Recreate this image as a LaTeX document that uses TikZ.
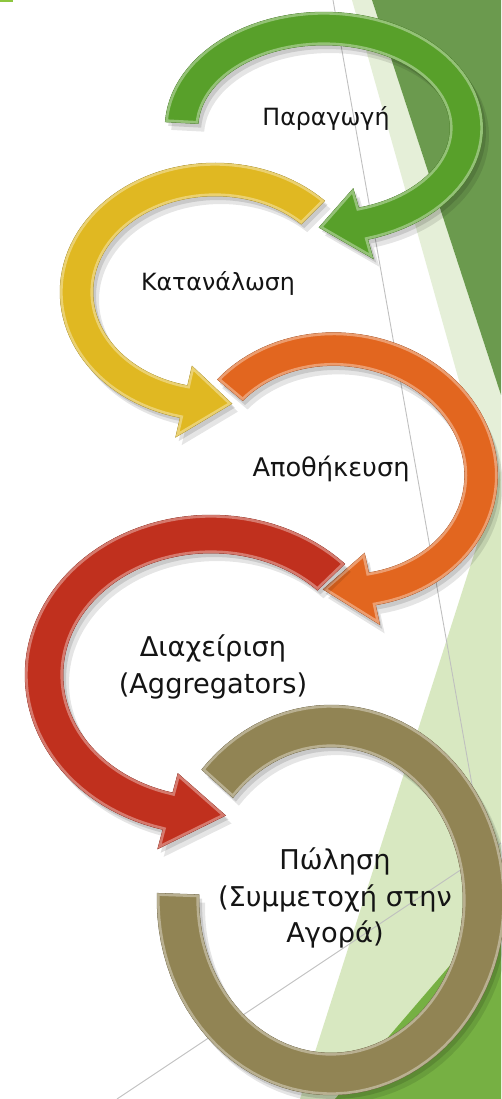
\documentclass[tikz,border=0pt]{standalone}
\usepackage{fontspec}
\setmainfont{DejaVu Sans}
\usepackage{tikz}
\usetikzlibrary{positioning}
\usepackage{xcolor}

\definecolor{slidedark}{HTML}{6B9A4E}
\definecolor{slidepale}{HTML}{E5EFD8}
\definecolor{slidelight}{HTML}{D8E8C1}
\definecolor{slidemid}{HTML}{76B043}
\definecolor{slidebar}{HTML}{8DC63F}
\definecolor{arrowgreen}{HTML}{58A02A}
\definecolor{arrowyellow}{HTML}{E0B822}
\definecolor{arroworange}{HTML}{E2661F}
\definecolor{arrowred}{HTML}{C0301E}
\definecolor{arrowolive}{HTML}{918454}

% arc with head: centre x, centre y, x radius, y radius, thickness, start, end, tip
\newcommand{\headarcpath}[8]{%
  plot[domain=#6:#7, samples=72] ({#1+#3*cos(\x)}, {#2+#4*sin(\x)})
  -- ({#1+(#3+20)*cos(#7)}, {#2+(#4+20)*sin(#7)})
  -- ({#1+(#3-#5/2)*cos(#8)}, {#2+(#4-#5/2)*sin(#8)})
  -- ({#1+(#3-#5-20)*cos(#7)}, {#2+(#4-#5-20)*sin(#7)})
  -- plot[domain=#7:#6, samples=72] ({#1+(#3-#5)*cos(\x)}, {#2+(#4-#5)*sin(\x)})
  -- cycle}

% open ring: centre x, centre y, x radius, y radius, thickness, start, end
\newcommand{\ringpath}[7]{%
  plot[domain=#6:#7, samples=90] ({#1+#3*cos(\x)}, {#2+#4*sin(\x)})
  -- plot[domain=#7:#6, samples=90] ({#1+(#3-#5)*cos(\x)}, {#2+(#4-#5)*sin(\x)})
  -- cycle}

\newcommand{\headarc}[9]{%
  \fill[black, opacity=.10] \headarcpath{#1+6}{#2+8}{#3}{#4}{#5}{#6}{#7}{#8};
  \fill[black, opacity=.12] \headarcpath{#1+3}{#2+4}{#3}{#4}{#5}{#6}{#7}{#8};
  \fill[#9, draw=#9!70!black, line width=.3pt] \headarcpath{#1}{#2}{#3}{#4}{#5}{#6}{#7}{#8};
  \begin{scope}
    \clip \headarcpath{#1}{#2}{#3}{#4}{#5}{#6}{#7}{#8};
    \draw[#9!55!white, line width=3pt, opacity=.8] \headarcpath{#1}{#2}{#3}{#4}{#5}{#6}{#7}{#8};
  \end{scope}
}

\begin{document}
\begin{tikzpicture}[x=0.02cm, y=-0.02cm,
    stage/.style={font=\fontsize{13.5}{16}\selectfont, text=black!92, align=center},
    stagebig/.style={font=\fontsize{15.5}{21}\selectfont, text=black!92, align=center},
    slideline/.style={draw=black!25, line width=.5pt}]
  \useasboundingbox (0,0) rectangle (501,1099);

  % slide background
  \fill[white] (0,0) rectangle (501,1099);
  \fill[slidebar] (0,0) rectangle (13,1.5);
  \fill[slidepale] (352,0) -- (372,0) -- (501,395) -- (501,530) -- cycle;
  \fill[slidedark] (372,0) -- (501,0) -- (501,395) -- cycle;
  \fill[slidelight] (501,470) -- (501,1099) -- (300,1099) -- cycle;
  \fill[slidemid] (501,906) -- (501,1099) -- (335,1099) -- cycle;
  \coordinate (lineAtop) at (333,0);
  \coordinate (lineAend) at (480,830);
  \coordinate (lineBbot) at (117,1099);
  \coordinate (lineBend) at (501,843);
  \draw[slideline] (lineAtop) -- (lineAend);
  \draw[slideline] (lineBbot) -- (lineBend);

  % the five stages
  \headarc{324}{128}{159}{116}{33}{183}{434}{452}{arrowgreen}
  \headarc{215}{292}{155}{129}{33}{315}{103}{83}{arrowyellow}
  \begin{scope}[rotate around={-8:(340,470)}]
    \headarc{340}{470}{158}{137}{33}{212}{430}{450}{arroworange}
  \end{scope}
  \headarc{211}{675}{186}{160}{38}{316}{105}{85}{arrowred}

  \fill[black, opacity=.10] \ringpath{337}{908}{174}{195}{42}{222}{542};
  \fill[black, opacity=.12] \ringpath{334}{904}{174}{195}{42}{222}{542};
  \fill[arrowolive, draw=arrowolive!70!black, line width=.3pt] \ringpath{331}{900}{174}{195}{42}{222}{542};
  \begin{scope}
    \clip \ringpath{331}{900}{174}{195}{42}{222}{542};
    \draw[arrowolive!55!white, line width=3pt, opacity=.8] \ringpath{331}{900}{174}{195}{42}{222}{542};
  \end{scope}

  % labels
  \node[stage] (prod) at (326,118) {Παραγωγή};
  \node[stage] (cons) at (218,283) {Κατανάλωση};
  \node[stage, font=\fontsize{14.6}{16}\selectfont] (stor) at (331,469) {Αποθήκευση};
  \node[stagebig] (mgmt) at (213,667) {Διαχείριση\\(Aggregators)};
  \node[stagebig] (sale) at (335,898) {Πώληση\\(Συμμετοχή στην\\Αγορά)};
\end{tikzpicture}
\end{document}
